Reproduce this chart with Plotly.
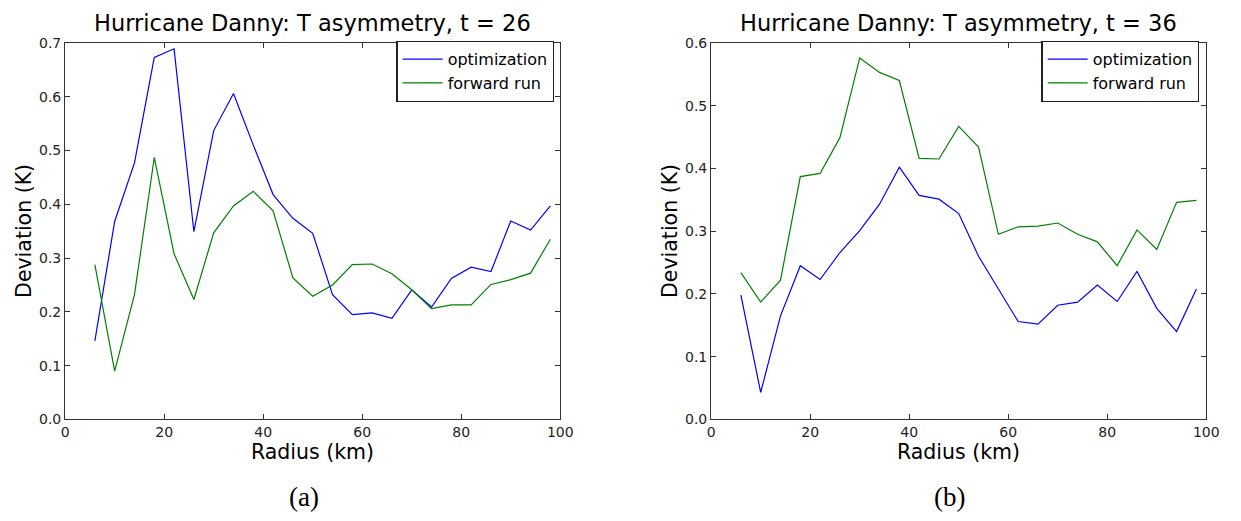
import plotly.graph_objects as go

radius = [6, 10, 14, 18, 22, 26, 30, 34, 38, 42, 46, 50, 54, 58, 62, 66, 70, 74, 78, 82, 86, 90, 94, 98]

opt_t26 = [0.146, 0.368, 0.477, 0.673, 0.689, 0.349, 0.537, 0.606, 0.510, 0.418, 0.374, 0.346,
           0.232, 0.195, 0.198, 0.188, 0.241, 0.209, 0.262, 0.283, 0.275, 0.369, 0.352, 0.397]
fwd_t26 = [0.288, 0.090, 0.232, 0.487, 0.308, 0.223, 0.347, 0.397, 0.424, 0.388, 0.263, 0.229,
           0.250, 0.288, 0.289, 0.271, 0.241, 0.206, 0.213, 0.213, 0.251, 0.260, 0.272, 0.335]

opt_t36 = [0.198, 0.043, 0.165, 0.245, 0.223, 0.266, 0.301, 0.343, 0.402, 0.357, 0.351, 0.328,
           0.260, 0.208, 0.156, 0.152, 0.182, 0.187, 0.214, 0.188, 0.236, 0.177, 0.140, 0.208]
fwd_t36 = [0.234, 0.187, 0.222, 0.387, 0.392, 0.449, 0.576, 0.553, 0.540, 0.416, 0.415, 0.467,
           0.434, 0.295, 0.307, 0.308, 0.313, 0.295, 0.283, 0.245, 0.302, 0.271, 0.346, 0.349]

titles = ["Hurricane Danny: T asymmetry, t = 26", "Hurricane Danny: T asymmetry, t = 36"]
captions = ["(a)", "(b)"]
series_names = ["optimization", "forward run"]
x_ticks = [0, 20, 40, 60, 80, 100]
y_ticks_a = [0.0, 0.1, 0.2, 0.3, 0.4, 0.5, 0.6, 0.7]
y_ticks_b = [0.0, 0.1, 0.2, 0.3, 0.4, 0.5, 0.6]

BLUE = "#0000ff"
GREEN = "#008000"
W, H = 1241, 521

fig = go.Figure()
fig.add_trace(go.Scatter(x=radius, y=opt_t26, mode="lines", name=series_names[0],
                         line=dict(color=BLUE, width=1.2), xaxis="x", yaxis="y", legend="legend"))
fig.add_trace(go.Scatter(x=radius, y=fwd_t26, mode="lines", name=series_names[1],
                         line=dict(color=GREEN, width=1.2), xaxis="x", yaxis="y", legend="legend"))
fig.add_trace(go.Scatter(x=radius, y=opt_t36, mode="lines", name=series_names[0],
                         line=dict(color=BLUE, width=1.2), xaxis="x2", yaxis="y2", legend="legend2"))
fig.add_trace(go.Scatter(x=radius, y=fwd_t36, mode="lines", name=series_names[1],
                         line=dict(color=GREEN, width=1.2), xaxis="x2", yaxis="y2", legend="legend2"))

left_dom = [62 / W, 564 / W]
right_dom = [717 / W, 1219 / W]
y_dom = [(H - 424.5) / H, (H - 36) / H]

tickfont = dict(family="DejaVu Sans", size=14, color="#222222")
common_axis = dict(showline=True, linecolor="#333333", linewidth=1.2, mirror="allticks",
                   ticks="inside", ticklen=5, tickwidth=1, tickcolor="#333333",
                   showgrid=False, zeroline=False, tickfont=tickfont)

legend_style = dict(xanchor="right", yanchor="top", itemwidth=40,
                    bordercolor="#222222", borderwidth=1.3, bgcolor="white",
                    font=dict(family="DejaVu Sans", size=16, color="#000000"))

fig.update_layout(
    width=W, height=H,
    margin=dict(l=0, r=0, t=0, b=0),
    paper_bgcolor="white", plot_bgcolor="white",
    xaxis=dict(domain=left_dom, range=[0, 100], tickvals=x_ticks, anchor="y", **common_axis),
    yaxis=dict(domain=y_dom, range=[0, 0.7], tickvals=y_ticks_a,
               ticktext=[f"{v:.1f}" for v in y_ticks_a], anchor="x", **common_axis),
    xaxis2=dict(domain=right_dom, range=[0, 100], tickvals=x_ticks, anchor="y2", **common_axis),
    yaxis2=dict(domain=y_dom, range=[0, 0.6], tickvals=y_ticks_b,
                ticktext=[f"{v:.1f}" for v in y_ticks_b], anchor="x2", **common_axis),
    legend=dict(x=558 / W, y=(H - 34) / H, **legend_style),
    legend2=dict(x=1212 / W, y=(H - 34) / H, **legend_style),
)

annotations = []
for dom, title, cap in [(left_dom, titles[0], captions[0]), (right_dom, titles[1], captions[1])]:
    cx = (dom[0] + dom[1]) / 2
    annotations.append(dict(x=cx, y=(H - 15) / H, xref="paper", yref="paper", text=title,
                            showarrow=False, xanchor="center", yanchor="middle",
                            font=dict(family="DejaVu Sans", size=22.5, color="#000000")))
    annotations.append(dict(x=cx, y=(H - 458) / H, xref="paper", yref="paper", text="Radius (km)",
                            showarrow=False, xanchor="center", yanchor="middle",
                            font=dict(family="DejaVu Sans", size=20.5, color="#000000")))
    annotations.append(dict(x=dom[0] - 42 / W, y=(y_dom[0] + y_dom[1]) / 2, xref="paper", yref="paper",
                            text="Deviation (K)", textangle=-90,
                            showarrow=False, xanchor="center", yanchor="middle",
                            font=dict(family="DejaVu Sans", size=20.5, color="#000000")))
    annotations.append(dict(x=cx - 9 / W, y=(H - 505) / H, xref="paper", yref="paper", text=cap,
                            showarrow=False, xanchor="center", yanchor="middle",
                            font=dict(family="Liberation Serif", size=27, color="#000000")))
fig.update_layout(annotations=annotations)

fig.write_html("out.html")
